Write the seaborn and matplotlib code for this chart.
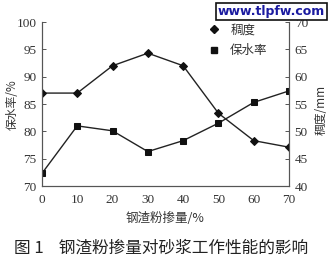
import matplotlib
matplotlib.use("Agg")
import matplotlib.pyplot as plt
import seaborn as sns
import pandas as pd
from matplotlib.lines import Line2D

# data
dosage = [0, 10, 20, 30, 40, 50, 60, 70]
consistency = [57.0, 57.0, 62.0, 64.3, 62.0, 53.3, 48.3, 47.1]   # 稠度 / mm (right axis)
water_retention = [72.3, 81.0, 80.1, 76.3, 78.3, 81.5, 85.3, 87.4]  # 保水率 / % (left axis)
x_ticks = [0, 10, 20, 30, 40, 50, 60, 70]
left_ticks = [70, 75, 80, 85, 90, 95, 100]
right_ticks = [40, 45, 50, 55, 60, 65, 70]

sns.set_theme(style="white")
plt.rcParams['font.family'] = ['Liberation Serif', 'Noto Sans CJK SC']
cjk = ['Noto Sans CJK SC', 'DejaVu Sans']

df_c = pd.DataFrame({"x": dosage, "y": consistency})
df_w = pd.DataFrame({"x": dosage, "y": water_retention})

fig = plt.figure(figsize=(3.3, 2.62), dpi=100)
ax = fig.add_axes([0.127, 0.29, 0.749, 0.626])
ax2 = ax.twinx()

tc = "#333333"
sns.lineplot(data=df_w, x="x", y="y", ax=ax, color="#222222", marker="s",
             markersize=5, linewidth=1.0, markeredgecolor="#111111", markerfacecolor="#111111")
sns.lineplot(data=df_c, x="x", y="y", ax=ax2, color="#222222", marker="D",
             markersize=4, linewidth=1.0, markeredgecolor="#111111", markerfacecolor="#111111")

ax.set_xlim(0, 70)
ax.set_ylim(70, 100)
ax2.set_ylim(40, 70)
ax.set_xticks(x_ticks)
ax.set_yticks(left_ticks)
ax2.set_yticks(right_ticks)
ax.set_xlabel("")
ax.set_ylabel("")
ax2.set_ylabel("")

for a in (ax, ax2):
    a.spines['top'].set_visible(False)
    for s in a.spines.values():
        s.set_color("#555555")
        s.set_linewidth(0.8)
ax.tick_params(axis='both', direction='in', length=3, width=0.7, colors="#555555",
               labelsize=9.5, labelcolor=tc, pad=4)
ax2.tick_params(axis='y', direction='in', length=3, width=0.7, colors="#555555",
                labelsize=9.5, labelcolor=tc, pad=4)
ax.tick_params(axis='x', pad=6)

fig.text(0.037, 0.60, "保水率/%", rotation=90, ha='center', va='center',
         fontsize=8.5, family=cjk, color=tc)
fig.text(0.972, 0.58, "稠度/mm", rotation=90, ha='center', va='center',
         fontsize=8.5, family=cjk, color=tc)
fig.text(0.5, 0.165, "钢渣粉掺量/%", ha='center', va='center', fontsize=9,
         family=cjk, color=tc)
fig.text(0.042, 0.052, "图 1    钢渣粉掺量对砂浆工作性能的影响", ha='left', va='center',
         fontsize=12, family=cjk, color="#222222")

# legend (markers only)
handles = [Line2D([], [], marker="D", color="#111111", linestyle="None", markersize=4),
           Line2D([], [], marker="s", color="#111111", linestyle="None", markersize=4.5)]
leg = ax.legend(handles, ["稠度", "保水率"], loc='upper left', bbox_to_anchor=(0.6, 1.06),
                frameon=False, handletextpad=0.3, labelspacing=0.6,
                prop={'family': cjk, 'size': 9})
for t in leg.get_texts():
    t.set_color(tc)

# watermark
fig.text(0.985, 0.955, "www.tlpfw.com", ha='right', va='center', fontsize=9,
         family=['DejaVu Sans'], weight='bold', color="#1a1aa0",
         bbox=dict(boxstyle='square,pad=0.15', facecolor='white', edgecolor='#111111', linewidth=1.2))

fig.savefig("out.png", dpi=100)
